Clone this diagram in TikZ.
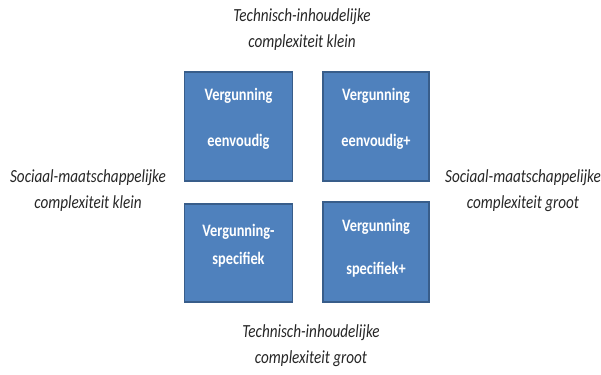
\documentclass[tikz,border=0pt]{standalone}
\usepackage{fontspec}
\setmainfont{Carlito}[FakeStretch=0.82]
\definecolor{boxfill}{HTML}{4F81BD}
\definecolor{boxline}{HTML}{385D8A}
\begin{document}
\begin{tikzpicture}[x=1pt,y=-1pt,
  vbox/.style={draw=boxline,line width=1.5pt,fill=boxfill,minimum width=108pt,minimum height=108pt,inner sep=0pt},
  vtext/.style={text=white,font=\fontsize{17.5}{17.5}\selectfont\bfseries,align=center},
  lab/.style={font=\fontsize{18.5}{26}\selectfont\itshape,align=center,text=black!85}]
\useasboundingbox (0,0) rectangle (601,374);
\node[vbox,minimum height=109pt] (tl) at (238.5,126.5) {};
\node[vbox,minimum width=106pt,minimum height=109pt] (tr) at (376,126.5) {};
\node[vbox,minimum height=98pt] (bl) at (238.5,253) {};
\node[vbox,minimum width=106pt,minimum height=100pt] (br) at (376,252) {};
\node[vtext] (tl1) at (238.5,96) {Vergunning};
\node[vtext] (tl2) at (238.5,142) {eenvoudig};
\node[vtext] (tr1) at (376,96) {Vergunning};
\node[vtext] (tr2) at (376,142) {eenvoudig+};
\node[vtext] (bl1) at (238.5,232) {Vergunning-};
\node[vtext] (bl2) at (238.5,260) {specifiek};
\node[vtext] (br1) at (376,227) {Vergunning};
\node[vtext] (br2) at (376,270) {specifiek+};
\node[lab] (top) at (302,30) {Technisch-inhoudelijke\\complexiteit klein};
\node[lab] (bot) at (311,346) {Technisch-inhoudelijke\\complexiteit groot};
\node[lab] (left) at (88,191) {Sociaal-maatschappelijke\\complexiteit klein};
\node[lab] (right) at (523,191) {Sociaal-maatschappelijke\\complexiteit groot};
\end{tikzpicture}
\end{document}
